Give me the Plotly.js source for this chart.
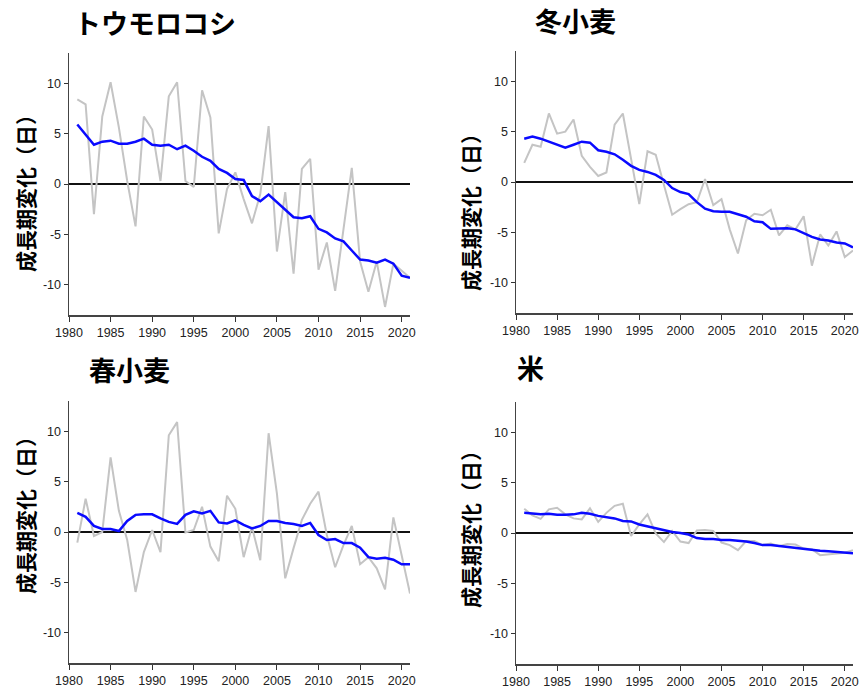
<!DOCTYPE html>
<html>
<head>
<meta charset="utf-8">
<script src="https://cdn.plot.ly/plotly-3.0.1.min.js"></script>
<style>html,body{margin:0;padding:0;background:#fff;}#chart{width:861px;height:688px;}</style>
</head>
<body>
<div id="chart"></div>
<script>
const years = [];
for (let y = 1981; y <= 2021; y++) years.push(y);

const panelTitles = ["トウモロコシ", "冬小麦", "春小麦", "米"];
const yAxisTitle = "成長期変化（日）";
const xTickVals = [1980, 1985, 1990, 1995, 2000, 2005, 2010, 2015, 2020];
const xTickText = ["1980", "1985", "1990", "1995", "2000", "2005", "2010", "2015", "2020"];
const yTickVals = [-10, -5, 0, 5, 10];
const yTickText = ["-10", "-5", "0", "5", "10"];

const cornAnnual = [8.4, 7.9, -3.0, 6.7, 10.1, 5.6, 0.3, -4.2, 6.7, 5.4, 0.3, 8.7, 10.1, 0.3, -0.3, 9.3, 6.6, -4.9, -0.5, 1.15, -1.5, -3.9, -1.0, 5.75, -6.7, -0.8, -8.9, 1.5, 2.5, -8.5, -5.8, -10.6, -4.5, 1.6, -7.7, -10.7, -7.7, -12.2, -7.9, -8.6, -9.3];
const cornTrend = [5.9, 4.9, 3.9, 4.2, 4.3, 4.0, 4.0, 4.2, 4.5, 3.9, 3.8, 3.9, 3.45, 3.8, 3.3, 2.7, 2.3, 1.5, 1.1, 0.5, 0.4, -1.2, -1.7, -1.05, -1.8, -2.45, -3.3, -3.4, -3.2, -4.45, -4.8, -5.4, -5.7, -6.6, -7.5, -7.6, -7.8, -7.5, -7.9, -9.1, -9.3];

const winterAnnual = [1.9, 3.7, 3.5, 6.8, 4.8, 5.0, 6.2, 2.6, 1.5, 0.6, 0.95, 5.7, 6.8, 2.3, -2.2, 3.05, 2.7, -0.3, -3.25, -2.7, -2.2, -2.0, 0.3, -2.3, -1.7, -4.7, -7.1, -3.8, -3.15, -3.3, -2.75, -5.3, -4.3, -4.7, -3.4, -8.3, -5.2, -6.3, -4.9, -7.45, -6.8];
const winterTrend = [4.3, 4.5, 4.3, 4.0, 3.7, 3.4, 3.7, 4.0, 3.9, 3.15, 3.0, 2.75, 2.2, 1.6, 1.2, 1.0, 0.7, 0.2, -0.6, -1.0, -1.2, -2.0, -2.65, -2.9, -2.95, -2.95, -3.2, -3.45, -3.9, -4.0, -4.65, -4.65, -4.6, -4.7, -5.1, -5.45, -5.7, -5.8, -6.0, -6.1, -6.5];

const springAnnual = [-1.05, 3.3, -0.4, 0.0, 7.4, 2.1, -0.8, -5.95, -2.0, 0.2, -2.0, 9.6, 10.9, -0.05, 0.2, 2.5, -1.45, -2.9, 3.6, 2.3, -2.5, 0.5, -2.8, 9.8, 3.8, -4.6, -1.6, 1.2, 2.8, 4.0, -0.3, -3.5, -1.3, 0.6, -3.2, -2.5, -3.6, -5.7, 1.45, -2.3, -6.1];
const springTrend = [1.9, 1.5, 0.6, 0.3, 0.3, 0.1, 1.1, 1.7, 1.75, 1.75, 1.35, 1.0, 0.8, 1.7, 2.05, 1.85, 2.1, 0.95, 0.85, 1.15, 0.7, 0.35, 0.6, 1.1, 1.1, 0.9, 0.8, 0.6, 0.9, -0.3, -0.8, -0.7, -1.1, -1.1, -1.55, -2.5, -2.65, -2.55, -2.75, -3.2, -3.2];

const riceAnnual = [2.4, 1.75, 1.4, 2.35, 2.5, 1.85, 1.45, 1.35, 2.45, 1.1, 2.0, 2.7, 2.9, -0.3, 0.85, 1.85, -0.05, -0.9, 0.2, -0.85, -1.0, 0.25, 0.3, 0.2, -0.95, -1.2, -1.7, -0.8, -0.8, -1.2, -1.05, -1.3, -1.1, -1.15, -1.55, -1.6, -2.2, -2.1, -2.0, -1.95, -1.7];
const riceTrend = [2.0, 1.95, 1.85, 1.9, 1.8, 1.8, 1.85, 2.0, 1.9, 1.7, 1.6, 1.45, 1.2, 1.15, 0.85, 0.65, 0.5, 0.3, 0.1, 0.0, -0.15, -0.5, -0.6, -0.6, -0.7, -0.7, -0.75, -0.85, -1.0, -1.2, -1.2, -1.3, -1.35, -1.45, -1.6, -1.7, -1.75, -1.8, -1.85, -1.95, -2.0];

const annualSeries = [cornAnnual, winterAnnual, springAnnual, riceAnnual];
const trendSeries = [cornTrend, winterTrend, springTrend, riceTrend];

const W = 861, H = 688;
// plot boxes in pixels [left, right, top, bottom]
const boxes = [[69, 410, 53, 315], [516, 853, 51, 313], [69, 410, 401, 663], [516, 853, 402, 664]];
const titlePos = [[72, 22], [533, 20], [87, 370], [515, 368]];
const yTitlePos = [[25, 188], [470, 207], [25, 510], [470, 524]];

const data = [];
const layout = {
  width: W, height: H,
  margin: {l: 0, r: 0, t: 0, b: 0},
  paper_bgcolor: "#ffffff", plot_bgcolor: "#ffffff",
  showlegend: false,
  font: {family: "Liberation Sans, Arial, sans-serif", color: "#222"},
  annotations: [],
  shapes: []
};

for (let i = 0; i < 4; i++) {
  const sfx = i === 0 ? "" : String(i + 1);
  const xa = "x" + sfx, ya = "y" + sfx;
  data.push({x: years, y: annualSeries[i], xaxis: xa, yaxis: ya, type: "scatter", mode: "lines",
    line: {color: "#c4c4c4", width: 2}, hoverinfo: "skip"});
  data.push({x: years, y: trendSeries[i], xaxis: xa, yaxis: ya, type: "scatter", mode: "lines",
    line: {color: "#0a0aff", width: 2.5}, hoverinfo: "skip"});
  const b = boxes[i];
  layout["xaxis" + sfx] = {
    domain: [b[0] / W, b[1] / W], anchor: ya, range: [1980, 2021],
    tickvals: xTickVals, ticktext: xTickText, ticks: "outside", ticklen: 5, tickwidth: 1, tickcolor: "#333",
    showline: true, linecolor: "#444", linewidth: 1.5, showgrid: false, zeroline: false,
    ticklabeloverflow: "allow", ticklabelstandoff: 0,
    tickfont: {size: 12.5, color: "#222"}
  };
  layout["yaxis" + sfx] = {
    domain: [1 - b[3] / H, 1 - b[2] / H], anchor: xa, range: [-13, 13],
    tickvals: yTickVals, ticktext: yTickText, ticks: "outside", ticklen: 4, tickwidth: 1, tickcolor: "#333",
    showline: true, linecolor: "#444", linewidth: 1.5, showgrid: false,
    zeroline: true, zerolinecolor: "#111", zerolinewidth: 1.2,
    tickfont: {size: 12.5, color: "#222"}
  };
  layout.annotations.push({
    text: "<b>" + panelTitles[i] + "</b>", xref: "paper", yref: "paper",
    x: titlePos[i][0] / W, y: 1 - titlePos[i][1] / H, xanchor: "left", yanchor: "middle",
    showarrow: false, font: {family: "Noto Sans CJK JP", size: 27, color: "#000"}
  });
  layout.annotations.push({
    text: "<b>" + yAxisTitle + "</b>", xref: "paper", yref: "paper",
    x: yTitlePos[i][0] / W, y: 1 - yTitlePos[i][1] / H, xanchor: "center", yanchor: "middle",
    textangle: -90, showarrow: false, font: {family: "Noto Sans CJK JP", size: 21, color: "#000"}
  });
}

Plotly.newPlot("chart", data, layout, {displayModeBar: false, staticPlot: true});
</script>
</body>
</html>
